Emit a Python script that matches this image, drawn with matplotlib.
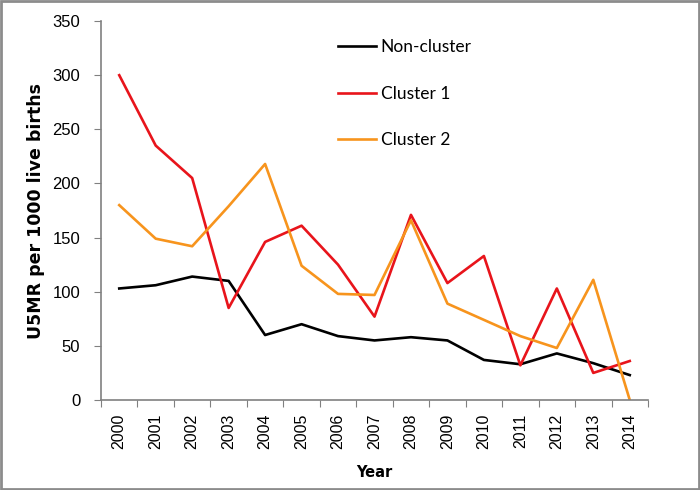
import matplotlib.pyplot as plt
import matplotlib.patches as mpatches

years = ['2000', '2001', '2002', '2003', '2004', '2005', '2006', '2007',
         '2008', '2009', '2010', '2011', '2012', '2013', '2014']
non_cluster = [103, 106, 114, 110, 60, 70, 59, 55, 58, 55, 37, 33, 43, 34, 23]
cluster_1 = [300, 235, 205, 85, 146, 161, 125, 77, 171, 108, 133, 32, 103, 25, 36]
cluster_2 = [180, 149, 142, 179, 218, 124, 98, 97, 166, 89, 74, 59, 48, 111, 0]

fig = plt.figure(figsize=(7, 4.9), dpi=100)
ax = fig.add_axes([0.1443, 0.1837, 0.7814, 0.7733])

x = range(len(years))
ax.plot(x, non_cluster, color='black', linewidth=1.9, label='Non-cluster')
ax.plot(x, cluster_1, color='#e8141b', linewidth=1.9, label='Cluster 1')
ax.plot(x, cluster_2, color='#f7941d', linewidth=1.9, label='Cluster 2')

ax.set_xlim(-0.5, len(years) - 0.5)
ax.set_ylim(0, 350)
ax.set_yticks(range(0, 351, 50))
ax.set_xticks([i - 0.5 for i in range(len(years) + 1)], minor=False)
ax.set_xticklabels([])
ax.set_xticks(list(x), minor=True)
ax.set_xticklabels(years, minor=True, rotation=90, fontsize=11.5, family='Liberation Sans')
ax.tick_params(axis='x', which='minor', length=0, pad=10)
ax.tick_params(axis='x', which='major', length=5, color='#808080')
ax.tick_params(axis='y', length=5, color='#808080', labelsize=12, pad=10)
for lab in ax.get_yticklabels():
    lab.set_family('Liberation Sans')

for s in ['top', 'right']:
    ax.spines[s].set_visible(False)
for s in ['left', 'bottom']:
    ax.spines[s].set_color('#808080')
    ax.spines[s].set_linewidth(1.2)

ax.set_ylabel('U5MR per 1000 live births', fontsize=12.5, fontweight='bold', labelpad=5)
ax.set_xlabel('Year', fontsize=10.5, fontweight='bold', labelpad=11)

ax.legend(loc='upper left', bbox_to_anchor=(0.405, 0.993), frameon=False,
          prop={'family': 'Lato', 'size': 12.5}, handlelength=2.2,
          handletextpad=0.25, labelspacing=1.75)

fig.patches.append(mpatches.Rectangle((0.002, 0.003), 0.996, 0.994, transform=fig.transFigure,
                                      fill=False, edgecolor='#8c8c8c', linewidth=2))

fig.savefig('out.png', dpi=100)
